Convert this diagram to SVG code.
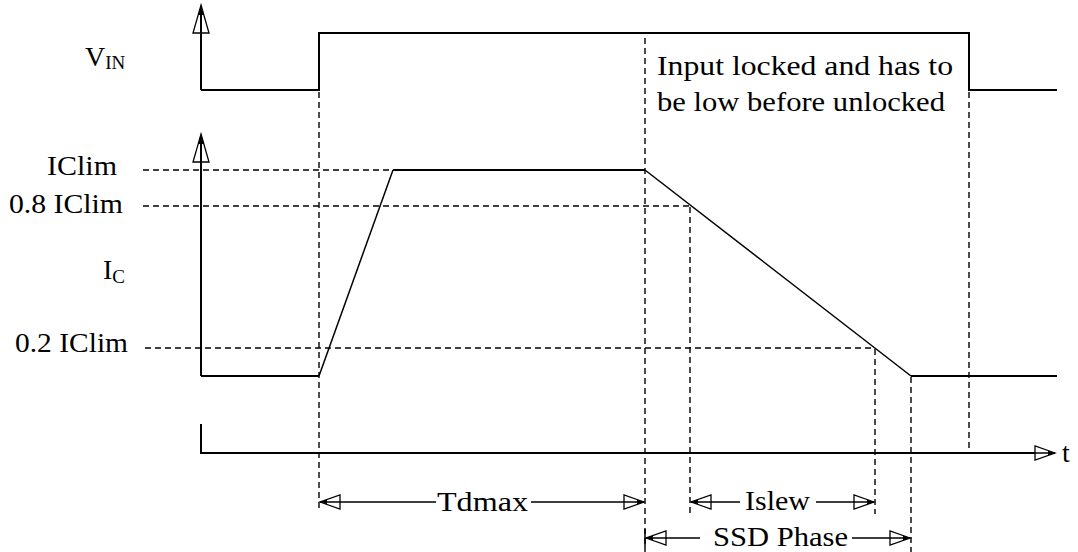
<svg xmlns="http://www.w3.org/2000/svg" width="1078" height="552" viewBox="0 0 1078 552">
<style>
  .ax{fill:none;stroke:#000;stroke-width:2}
  .wave{fill:none;stroke:#000;stroke-width:2;stroke-linejoin:miter}
  .ramp{fill:none;stroke:#000;stroke-width:1.5}
  .dash{fill:none;stroke:#000;stroke-width:1.4;stroke-dasharray:6,4}
  .dimL{fill:none;stroke:#000;stroke-width:1.5;marker-start:url(#ah)}
  .dimR{fill:none;stroke:#000;stroke-width:1.5;marker-end:url(#ah)}
  text{font-family:"Liberation Serif","Times New Roman",serif;fill:#000}
  .lbl{font-size:28px}
  .sub{font-size:19px}
</style>
<defs>
  <marker id="ah" markerUnits="userSpaceOnUse" viewBox="-24 -10 26 20" refX="0" refY="0" markerWidth="26" markerHeight="20" orient="auto-start-reverse" overflow="visible">
    <path d="M0,0 L-20,-7 L-20,7 Z" fill="none" stroke="#000" stroke-width="1.3"/>
    <path d="M0,0 L-7,-2.6 L-7,2.6 Z" fill="#000"/>
  </marker>
  <g id="uparrow">
    <path d="M0,0 L8,28 L-8,28 Z" fill="none" stroke="#000" stroke-width="1.3"/>
    <path d="M0,0 L2.8,10 L-2.8,10 Z" fill="#000"/>
  </g>
</defs>

<g id="connectors">
  <line class="dash" x1="319" y1="92" x2="319" y2="511"/>
  <line class="dash" x1="645" y1="38" x2="645" y2="552"/>
  <line class="dash" x1="690" y1="207" x2="690" y2="514"/>
  <line class="dash" x1="875" y1="349" x2="875" y2="514"/>
  <line class="dash" x1="911" y1="377" x2="911" y2="552"/>
  <line class="dash" x1="969" y1="92" x2="969" y2="453"/>
  <line class="dash" x1="143" y1="170" x2="393" y2="170"/>
  <line class="dash" x1="143" y1="206" x2="690" y2="206"/>
  <line class="dash" x1="145" y1="348" x2="875" y2="348"/>
</g>

<g id="vin-axis">
  <line class="ax" x1="201" y1="90" x2="201" y2="8"/>
  <use href="#uparrow" x="201" y="5"/>
</g>
<g id="vin-wave">
  <polyline class="wave" points="201,90 319,90 319,33 969,33 969,90 1057,90"/>
</g>

<g id="ic-axis">
  <line class="ax" x1="201" y1="376" x2="201" y2="137"/>
  <use href="#uparrow" x="201" y="134"/>
</g>
<g id="ic-wave">
  <polyline class="wave" points="201,376 319,376"/>
  <polyline class="ramp" points="319,376 393,170"/>
  <polyline class="wave" points="393,170 645,170"/>
  <polyline class="ramp" points="645,170 911,376"/>
  <polyline class="wave" points="911,376 1057,376"/>
</g>

<g id="time-axis">
  <polyline class="ax" points="201,424 201,453 1035,453"/>
  <line class="dimR" x1="1030" y1="453" x2="1055" y2="453"/>
  <text class="lbl" x="1062" y="462">t</text>
</g>

<g id="labels">
  <g id="label-vin"><text class="lbl" x="85" y="66">V<tspan class="sub" dy="3">IN</tspan></text></g>
  <g id="label-iclim"><text class="lbl" x="47" y="175" textLength="70" lengthAdjust="spacingAndGlyphs">IClim</text></g>
  <g id="label-08"><text class="lbl" x="9" y="213" textLength="114" lengthAdjust="spacingAndGlyphs">0.8 IClim</text></g>
  <g id="label-ic"><text class="lbl" x="103" y="279">I<tspan class="sub" font-size="21" dy="4">C</tspan></text></g>
  <g id="label-02"><text class="lbl" x="15" y="352" textLength="113" lengthAdjust="spacingAndGlyphs">0.2 IClim</text></g>
  <g id="label-note">
    <text class="lbl" x="657" y="75" textLength="296" lengthAdjust="spacingAndGlyphs">Input locked and has to</text>
    <text class="lbl" x="657" y="111" textLength="288" lengthAdjust="spacingAndGlyphs">be low before unlocked</text>
  </g>
</g>

<g id="dim-tdmax">
  <line class="dimL" x1="320" y1="502" x2="436" y2="502"/>
  <line class="dimR" x1="531" y1="502" x2="644" y2="502"/>
  <text class="lbl" x="437" y="511" textLength="91" lengthAdjust="spacingAndGlyphs">Tdmax</text>
</g>
<g id="dim-islew">
  <line class="dimL" x1="691" y1="502" x2="740" y2="502"/>
  <line class="dimR" x1="816" y1="502" x2="874" y2="502"/>
  <text class="lbl" x="745" y="510" textLength="65" lengthAdjust="spacingAndGlyphs">Islew</text>
</g>
<g id="dim-ssd">
  <line class="ax" x1="645" y1="529" x2="645" y2="548" style="stroke-width:1.5"/>
  <line class="dimL" x1="646" y1="538" x2="700" y2="538"/>
  <line class="dimR" x1="852" y1="538" x2="910" y2="538"/>
  <text class="lbl" x="713" y="546" textLength="135" lengthAdjust="spacingAndGlyphs">SSD Phase</text>
</g>
</svg>
